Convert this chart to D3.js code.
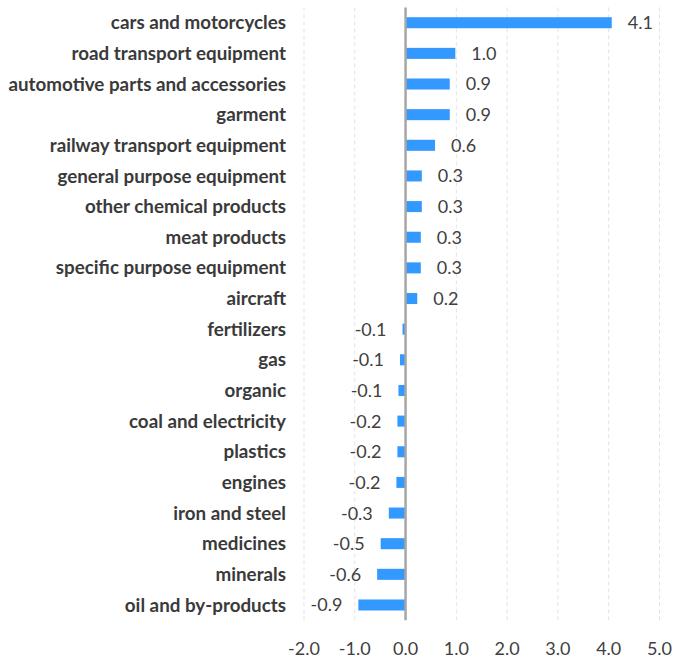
<!DOCTYPE html>
<html><head><meta charset="utf-8">
<script src="https://cdn.jsdelivr.net/npm/d3@7"></script>
<style>body{margin:0;background:#fff}</style>
</head><body><svg id="c" width="673" height="659"></svg>
<script>
const categories = ["cars and motorcycles","road transport equipment","automotive parts and accessories","garment","railway transport equipment","general purpose equipment","other chemical products","meat products","specific purpose equipment","aircraft","fertilizers","gas","organic","coal and electricity","plastics","engines","iron and steel","medicines","minerals","oil and by-products"];
const values = [4.06,0.98,0.87,0.87,0.58,0.32,0.32,0.30,0.30,0.23,-0.06,-0.11,-0.14,-0.16,-0.16,-0.18,-0.33,-0.49,-0.56,-0.93];
const ticks = [-2,-1,0,1,2,3,4,5];

const svg = d3.select("#c");
const x = d3.scaleLinear().domain([-2,5]).range([304,659.5]);
const y = d3.scaleBand().domain(categories).range([7.4,620.3]).paddingInner(0.64).paddingOuter(0.32);
const font = "Lato, 'Open Sans', sans-serif";

// grid
svg.append("g").selectAll("line").data(ticks.filter(t=>t!==0)).join("line")
  .attr("x1",d=>x(d)).attr("x2",d=>x(d)).attr("y1",7.4).attr("y2",620.3)
  .attr("stroke","#e3e3e3").attr("stroke-width",1).attr("stroke-dasharray","4,3");

// bars
svg.append("g").selectAll("rect").data(values).join("rect")
  .attr("x",d=>x(Math.min(0,d))).attr("width",d=>Math.abs(x(d)-x(0)))
  .attr("y",(d,i)=>y(categories[i])).attr("height",y.bandwidth())
  .attr("fill","#3399ff");

// zero line
svg.append("line").attr("x1",x(0)).attr("x2",x(0)).attr("y1",7.4).attr("y2",620.3)
  .attr("stroke","#a6a6a6").attr("stroke-width",2.5);

// category labels
svg.append("g").selectAll("text").data(categories).join("text")
  .attr("x",286).attr("y",d=>y(d)+y.bandwidth()/2).attr("dy","0.35em")
  .attr("text-anchor","end").attr("font-family",font).attr("font-weight","bold")
  .attr("font-size",18.8).attr("fill","#3a3a3a").text(d=>d);

// value labels
svg.append("g").selectAll("text").data(values).join("text")
  .attr("x",d=>d>=0? x(d)+16 : x(d)-16)
  .attr("y",(d,i)=>y(categories[i])+y.bandwidth()/2).attr("dy","0.36em")
  .attr("text-anchor",d=>d>=0?"start":"end")
  .attr("font-family",font).attr("font-size",18).attr("fill","#404040")
  .text(d=>d3.format(".1f")(d).replace("−","-"));

// x axis tick labels
svg.append("g").selectAll("text").data(ticks).join("text")
  .attr("x",d=>x(d)).attr("y",655).attr("text-anchor","middle")
  .attr("font-family",font).attr("font-size",18).attr("fill","#404040")
  .text(d=>d3.format(".1f")(d).replace("−","-"));
</script></body></html>
